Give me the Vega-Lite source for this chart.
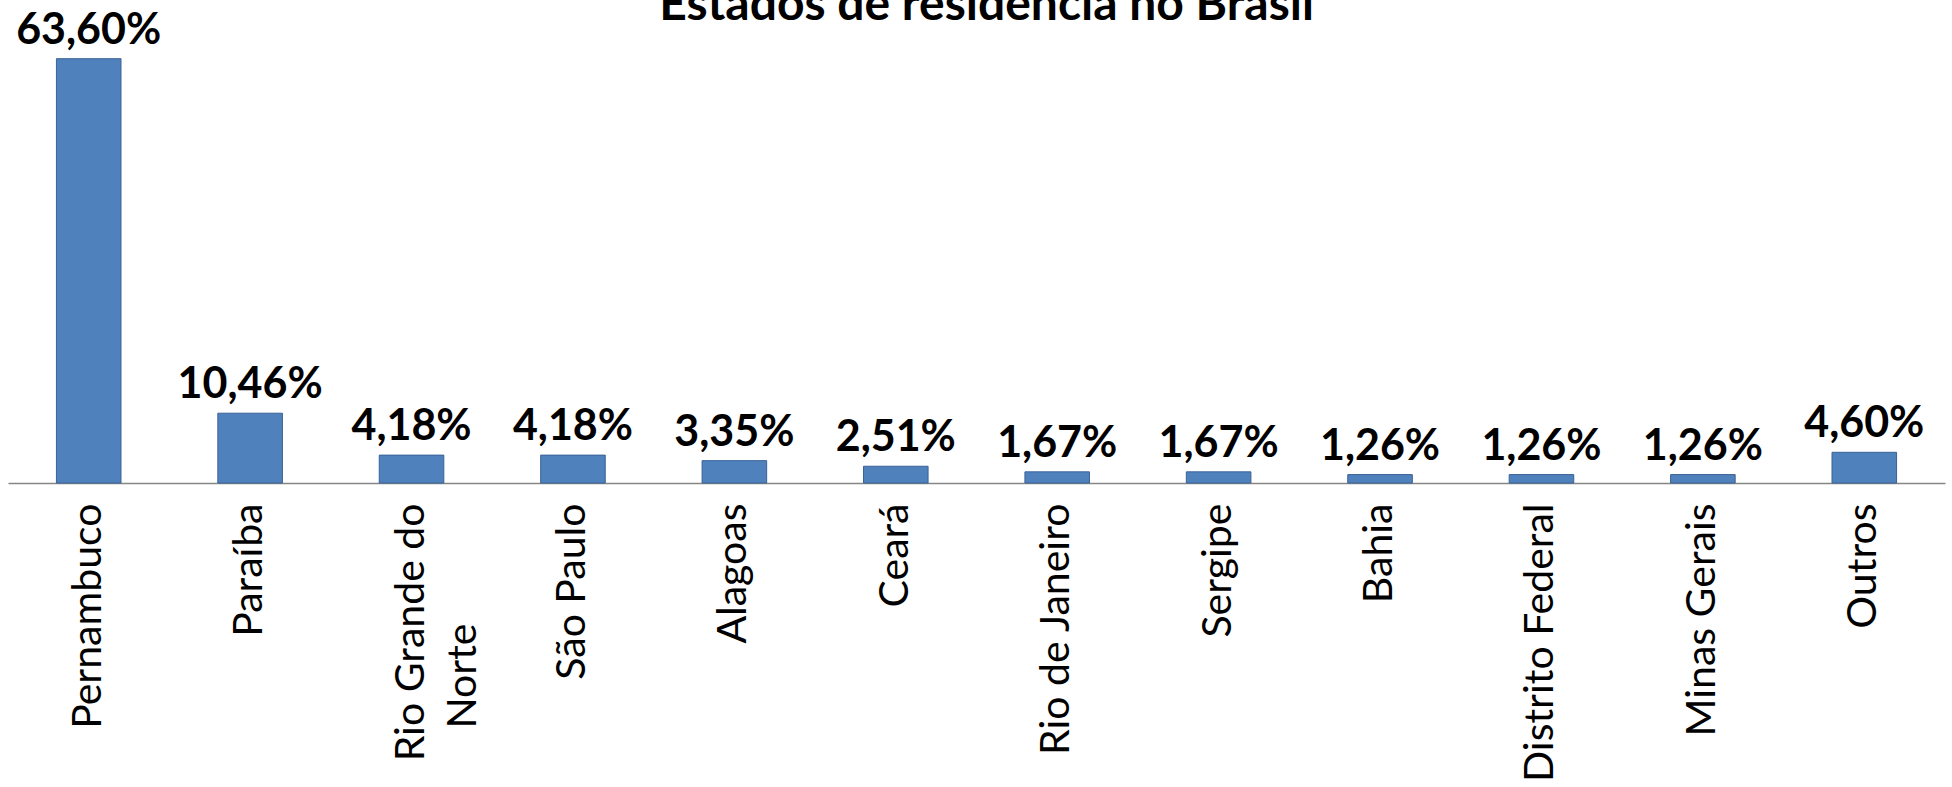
{
  "$schema": "https://vega.github.io/schema/vega-lite/v6.json",
  "autosize": {"type": "none"},
  "width": 1937,
  "height": 467,
  "padding": {"left": 8, "top": 16, "right": 7, "bottom": 304},
  "background": "white",
  "title": {
    "text": "Estados de residência no Brasil",
    "font": "Lato",
    "fontWeight": "bold",
    "fontSize": 48,
    "color": "black",
    "anchor": "middle",
    "offset": -20,
    "dx": 10
  },
  "config": {
    "view": {"stroke": null},
    "locale": {
      "number": {
        "decimal": ",",
        "thousands": ".",
        "grouping": [3],
        "currency": ["R$", ""]
      }
    }
  },
  "data": {
    "values": [
      {"estado": "Pernambuco", "pct": 0.636},
      {"estado": "Paraíba", "pct": 0.1046},
      {"estado": "Rio Grande do Norte", "pct": 0.0418},
      {"estado": "São Paulo", "pct": 0.0418},
      {"estado": "Alagoas", "pct": 0.0335},
      {"estado": "Ceará", "pct": 0.0251},
      {"estado": "Rio de Janeiro", "pct": 0.0167},
      {"estado": "Sergipe", "pct": 0.0167},
      {"estado": "Bahia", "pct": 0.0126},
      {"estado": "Distrito Federal", "pct": 0.0126},
      {"estado": "Minas Gerais", "pct": 0.0126},
      {"estado": "Outros", "pct": 0.046}
    ]
  },
  "encoding": {
    "x": {
      "field": "estado",
      "type": "nominal",
      "sort": null,
      "scale": {"paddingInner": 0.6, "paddingOuter": 0.3},
      "axis": {
        "title": null,
        "labelAngle": -90,
        "labelAlign": "right",
        "labelBaseline": "middle",
        "labelFont": "Lato",
        "labelFontSize": 41,
        "labelColor": "black",
        "labelPadding": 20,
        "labelLimit": 0,
        "labelLineHeight": 52,
        "ticks": false,
        "domainColor": "#868686",
        "domainWidth": 1.5,
        "labelExpr": "datum.value == 'Rio Grande do Norte' ? ['Rio Grande do', 'Norte\u2800\u2800\u2800\u2800'] : datum.value"
      }
    },
    "y": {
      "field": "pct",
      "type": "quantitative",
      "scale": {"domain": [0, 0.7], "nice": false},
      "axis": null
    }
  },
  "layer": [
    {
      "mark": {"type": "bar", "color": "#4F81BD", "stroke": "#3A6296", "strokeWidth": 1}
    },
    {
      "mark": {
        "type": "text",
        "font": "Lato",
        "fontWeight": "bold",
        "fontSize": 43,
        "color": "black",
        "baseline": "alphabetic",
        "dy": -15
      },
      "encoding": {
        "text": {"field": "pct", "type": "quantitative", "format": ".2%"}
      }
    }
  ]
}
